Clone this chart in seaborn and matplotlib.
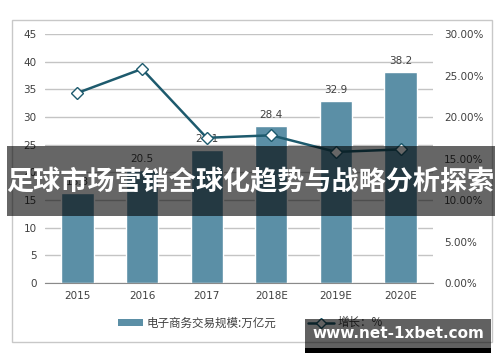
import numpy as np
import pandas as pd
import matplotlib
matplotlib.use("Agg")
import matplotlib.pyplot as plt
import seaborn as sns
from matplotlib.patches import Rectangle, Patch
from matplotlib.lines import Line2D

# Data
years = ["2015", "2016", "2017", "2018E", "2019E", "2020E"]
scale = [16.3, 20.5, 24.1, 28.4, 32.9, 38.2]      # 电子商务交易规模 (万亿元)
growth = [22.9, 25.8, 17.5, 17.8, 15.8, 16.1]     # 增长 (%)

title_text = "足球市场营销全球化趋势与战略分析探索"
watermark = "www.net-1xbet.com"

df = pd.DataFrame({"year": years, "scale": scale, "growth": growth})

sns.set_style("white")
plt.rcParams['font.family'] = ['Noto Sans CJK SC', 'DejaVu Sans']

bar_color = "#5b8fa6"
line_color = "#1d5a6d"
txt = "#404040"

fig = plt.figure(figsize=(5, 3.62), dpi=100)
ax = fig.add_axes([0.09, 0.218, 0.776, 0.688])

sns.barplot(data=df, x="year", y="scale", color=bar_color, width=0.5,
            saturation=1, ax=ax, zorder=2)
ax.set_ylim(0, 45)
ax.set_yticks(np.arange(0, 46, 5))
ax.grid(axis="y", color="#c4c4c4", linewidth=1, zorder=0)
ax.set_axisbelow(True)
ax.set_xlabel("")
ax.set_ylabel("")
for s in ["left", "right", "top"]:
    ax.spines[s].set_visible(False)
ax.spines["bottom"].set_color("#8a8a8a")
ax.tick_params(length=0, labelsize=7.5, labelcolor=txt, pad=6)
for lab in ax.get_yticklabels():
    lab.set_family("DejaVu Sans")
for lab in ax.get_xticklabels():
    lab.set_family("DejaVu Sans")

for i, v in enumerate(scale):
    ax.text(i, v + 1.0, f"{v}", ha="center", va="bottom", fontsize=7.5,
            color=txt, family="DejaVu Sans", zorder=3)

ax2 = ax.twinx()
sns.lineplot(x=np.arange(len(years)), y=growth, ax=ax2, color=line_color,
             linewidth=1.8, marker="D", markersize=6.5, markerfacecolor="white",
             markeredgecolor=line_color, markeredgewidth=1.0, zorder=4)
ax2.set_ylim(0, 30)
ax2.set_yticks(np.arange(0, 31, 5))
ax2.set_yticklabels([f"{t:.2f}%" for t in np.arange(0, 31, 5)], family="DejaVu Sans")
ax2.tick_params(length=0, labelsize=7.5, labelcolor=txt, pad=8)
for s in ["left", "right", "top", "bottom"]:
    ax2.spines[s].set_visible(False)
ax2.set_ylabel("")
ax.set_xlim(-0.5, len(years) - 0.5)

# legend
handles = [Patch(facecolor=bar_color, edgecolor="none"),
           Line2D([0], [0], color=line_color, linewidth=1.8, marker="D",
                  markersize=5, markerfacecolor="white", markeredgecolor=line_color)]
fig.legend(handles, ["电子商务交易规模:万亿元", "增长：%"], loc="center",
           bbox_to_anchor=(0.5, 0.108), ncol=2, frameon=False, fontsize=8.3,
           handlelength=2.2, handleheight=0.5, columnspacing=2.8,
           handletextpad=0.3, labelcolor=txt)

# outer frame
fig.patches.append(Rectangle((12 / 500, 1 - 342 / 362), 480 / 500, 322 / 362,
                             transform=fig.transFigure, fill=False,
                             edgecolor="#c8c8c8", linewidth=1))

# title banner
fig.patches.append(Rectangle((7 / 500, 1 - 216 / 362), 488 / 500, 70 / 362,
                             transform=fig.transFigure, facecolor="black",
                             alpha=0.6, edgecolor="none", zorder=10))
fig.text(0.5, 1 - 182 / 362, title_text, ha="center", va="center",
         fontsize=19.5, fontweight="bold", color="white", zorder=11)

# watermark box
fig.patches.append(Rectangle((305 / 500, 1 - 348 / 362), 186 / 500, 29 / 362,
                             transform=fig.transFigure, facecolor="black",
                             alpha=0.62, edgecolor="none", zorder=10))
fig.patches.append(Rectangle((305 / 500, 1 - 353 / 362), 186 / 500, 5 / 362,
                             transform=fig.transFigure, facecolor="black",
                             edgecolor="none", zorder=10))
fig.text(398 / 500, 1 - 334 / 362, watermark, ha="center", va="center",
         fontsize=11, fontweight="bold", color="white", family="DejaVu Sans",
         zorder=11)

fig.savefig("out.png", dpi=100)
